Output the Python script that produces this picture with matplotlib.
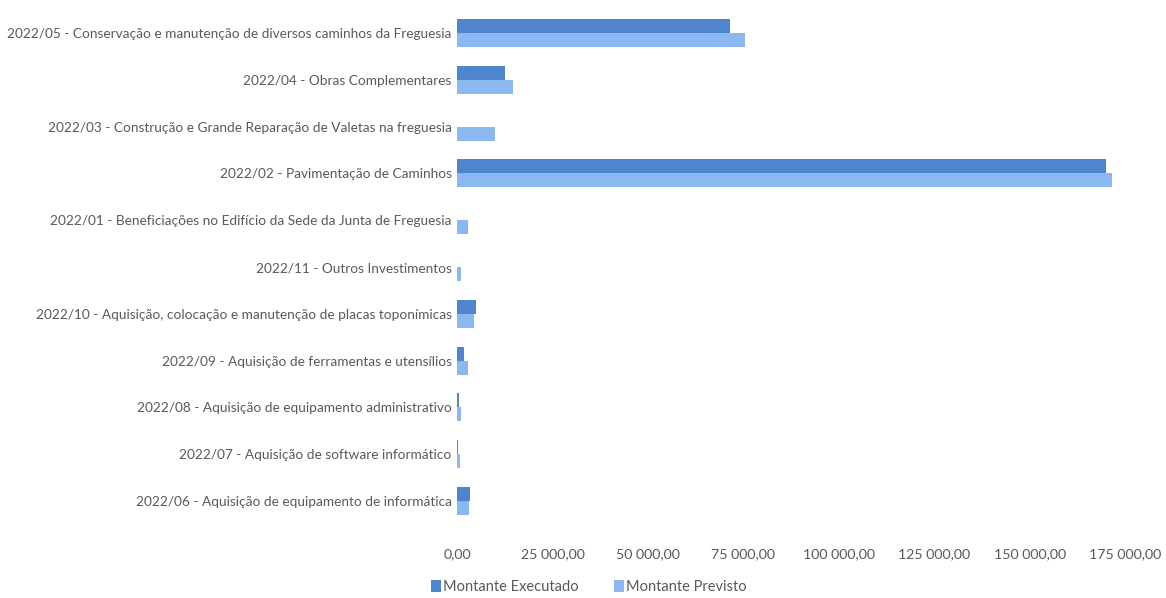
import matplotlib.pyplot as plt
import numpy as np

categorias = [
    "2022/05 - Conservação e manutenção de diversos caminhos da Freguesia",
    "2022/04 - Obras Complementares",
    "2022/03 - Construção e Grande Reparação de Valetas na freguesia",
    "2022/02 - Pavimentação de Caminhos",
    "2022/01 - Beneficiações no Edifício da Sede da Junta de Freguesia",
    "2022/11 - Outros Investimentos",
    "2022/10 - Aquisição, colocação e manutenção de placas toponímicas",
    "2022/09 - Aquisição de ferramentas e utensílios",
    "2022/08 - Aquisição de equipamento administrativo",
    "2022/07 - Aquisição de software informático",
    "2022/06 - Aquisição de equipamento de informática",
]
executado = [71500, 12500, 0, 170000, 0, 0, 5000, 1800, 600, 300, 3300]
previsto = [75500, 14700, 10000, 171500, 2800, 1000, 4500, 2800, 1000, 800, 3000]
ticks = [0, 25000, 50000, 75000, 100000, 125000, 150000, 175000]
tick_labels = ["0,00", "25 000,00", "50 000,00", "75 000,00",
               "100 000,00", "125 000,00", "150 000,00", "175 000,00"]

plt.rcParams['font.family'] = ['Lato', 'DejaVu Sans']
cinza = "#595959"

fig = plt.figure(figsize=(11.66, 5.98), dpi=100)
ax = fig.add_axes([0.392, 0.123, 0.573, 0.861])

y = np.arange(len(categorias))[::-1]
h = 0.3
ax.barh(y + h / 2, executado, height=h, color="#4F85CC", label="Montante Executado")
ax.barh(y - h / 2, previsto, height=h, color="#8BB8F0", label="Montante Previsto")

ax.set_xlim(0, 175000)
ax.set_ylim(-0.5, len(categorias) - 0.5)
ax.set_yticks(y)
ax.set_yticklabels(categorias, fontsize=9.8, color=cinza)
ax.set_xticks(ticks)
ax.set_xticklabels(tick_labels, fontsize=10.2, color=cinza)
ax.tick_params(axis="both", length=0)
ax.tick_params(axis="x", pad=17)
ax.tick_params(axis="y", pad=4)
for s in ax.spines.values():
    s.set_visible(False)

leg = fig.legend(loc="lower left", bbox_to_anchor=(0.358, -0.015), ncol=2, frameon=False,
                 fontsize=10.5, handlelength=0.7, handleheight=0.9, handletextpad=0.15,
                 columnspacing=2.4)
for t in leg.get_texts():
    t.set_color(cinza)

fig.savefig("out.png", dpi=100)
